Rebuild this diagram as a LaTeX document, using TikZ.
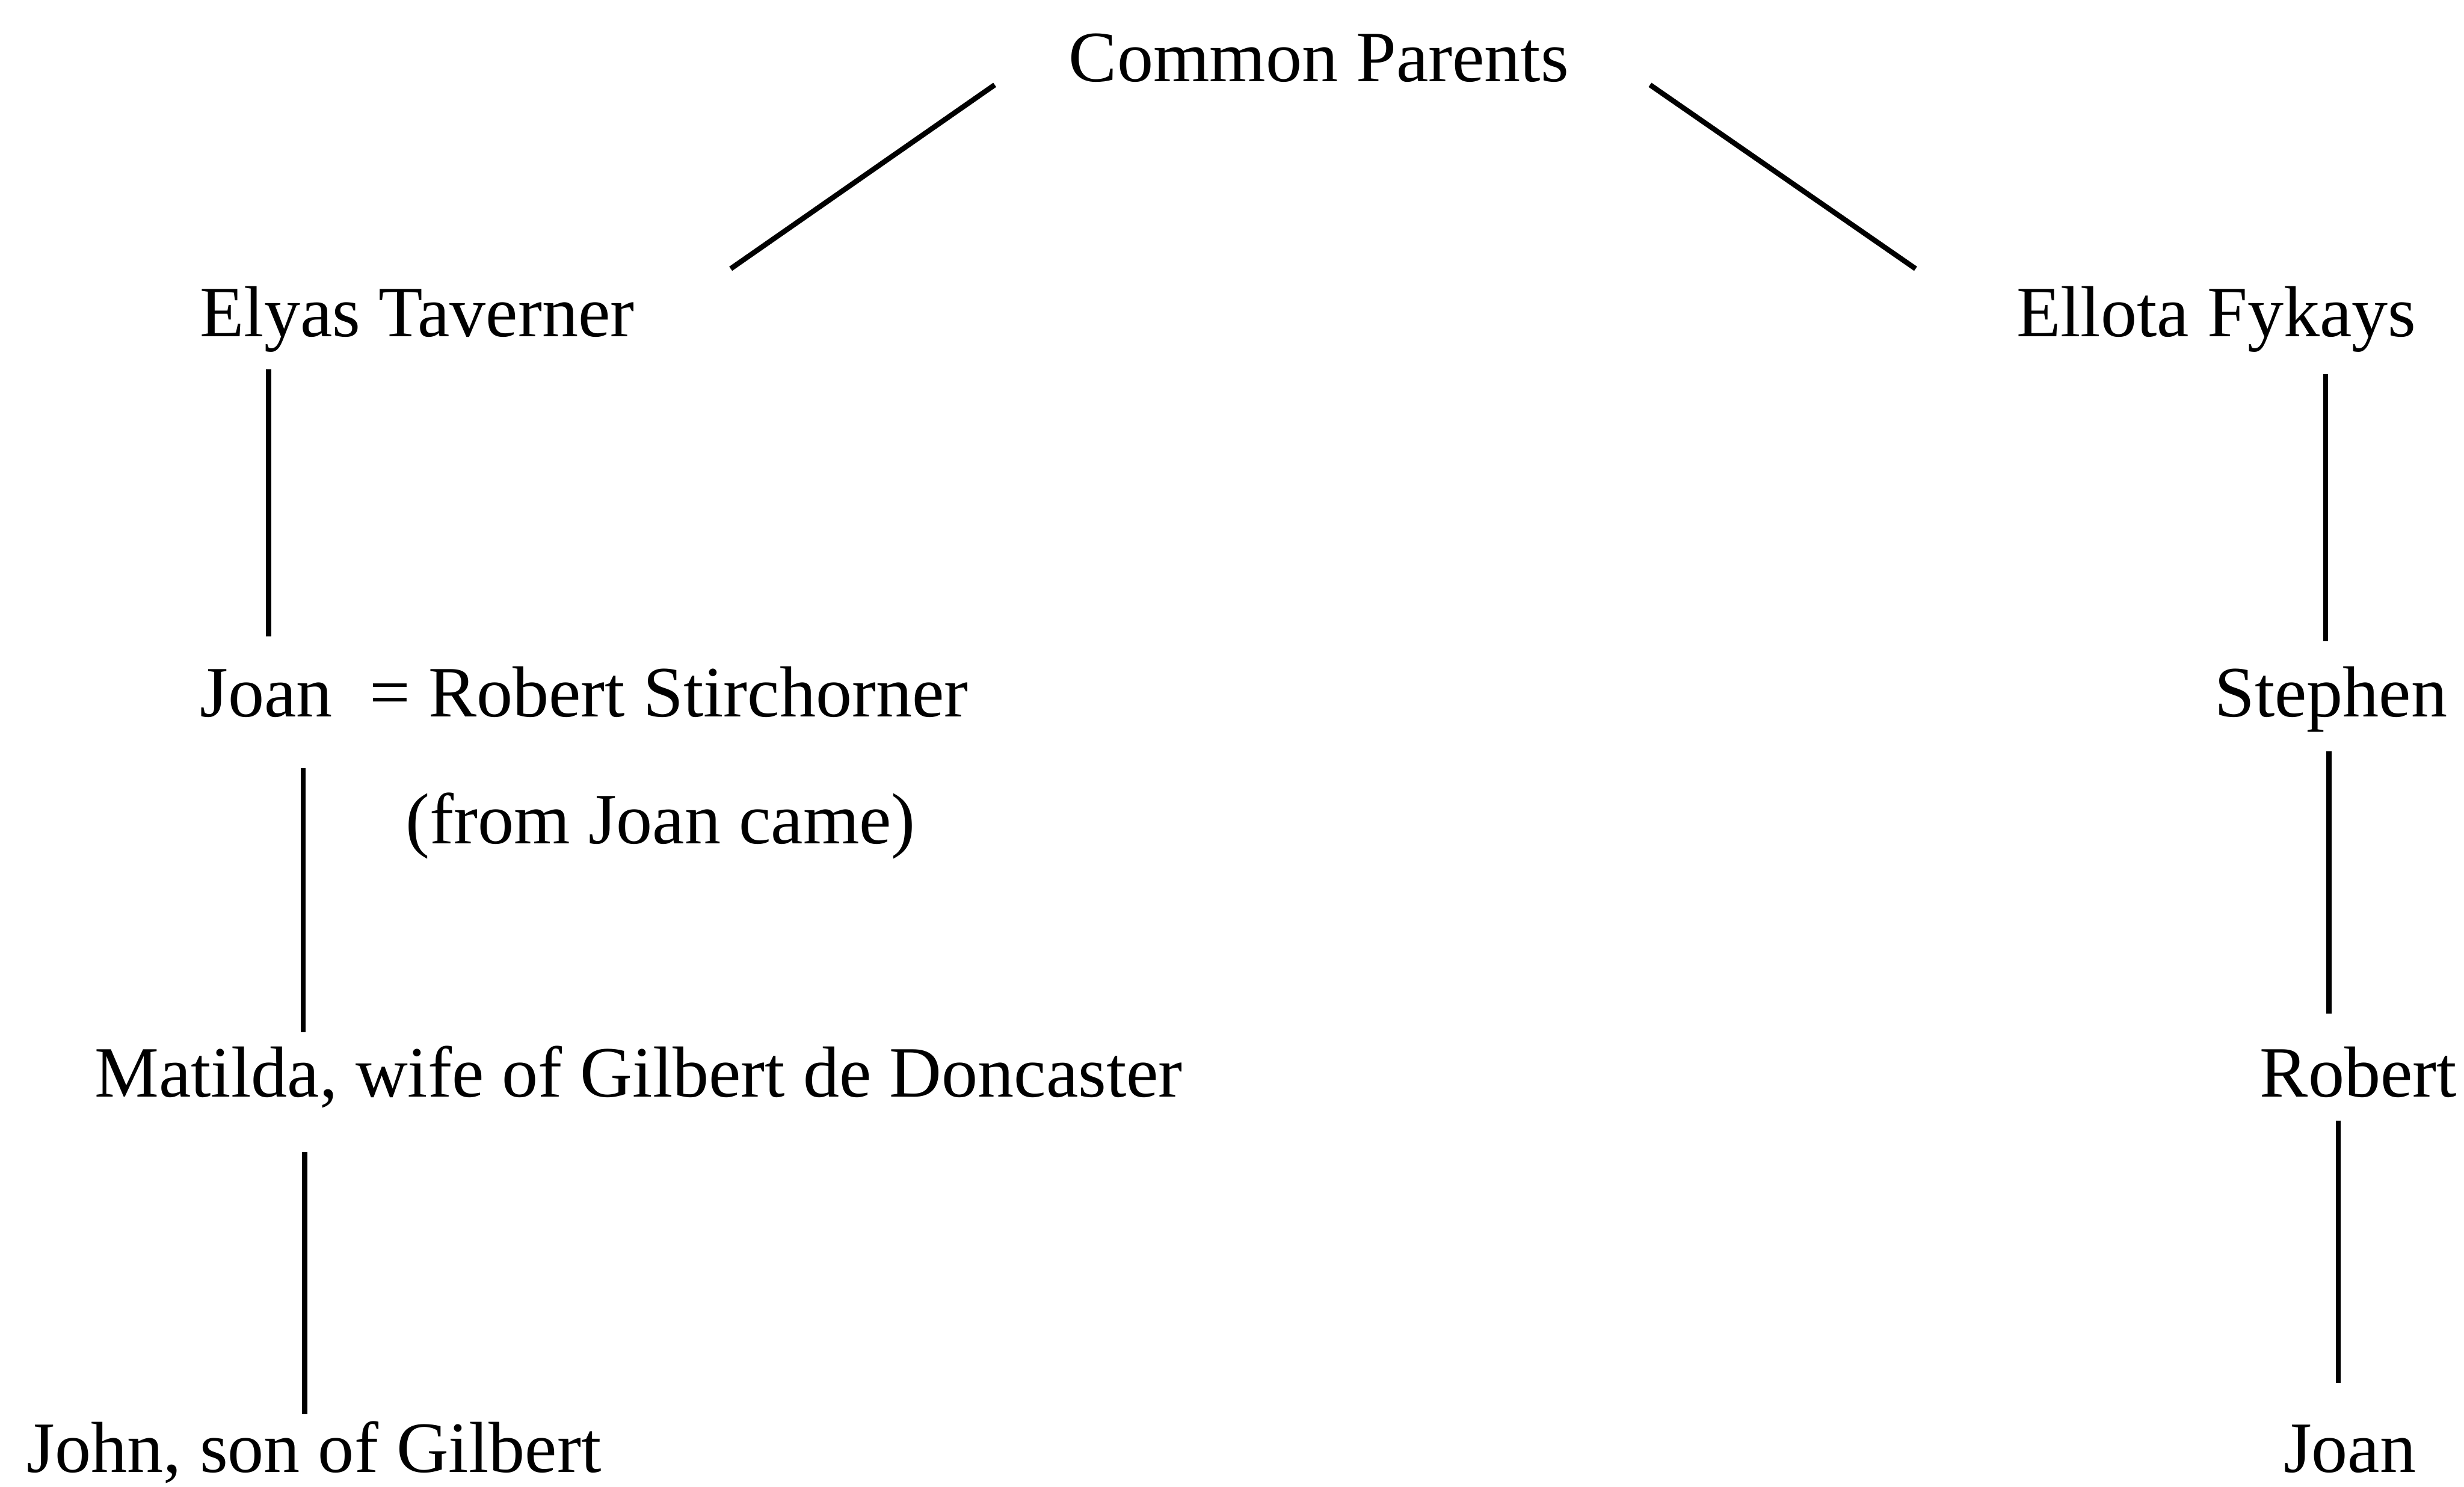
\documentclass[tikz,border=0pt]{standalone}
\usepackage{fontspec}
\setmainfont{Liberation Serif}
\begin{document}
\begin{tikzpicture}[x=1pt,y=-1pt,
  lbl/.style={anchor=base west,inner sep=0pt,font=\fontsize{46}{55}\selectfont},
  link/.style={line width=3.3pt,line cap=butt}]
\useasboundingbox (0,0) rectangle (1568,946);
% texts
\node[lbl] (cp) at (680,52) {Common Parents};
\node[lbl] (elyas) at (127,214) {Elyas Taverner};
\node[lbl] (ellota) at (1283,214) {Ellota Fykays};
\node[lbl] (joanL) at (127,456) {Joan};
\node[lbl] (robS) at (235,456) {= Robert Stirchorner};
\node[lbl] (from) at (258,537) {(from Joan came)};
\node[lbl] (steph) at (1409,456) {Stephen};
\node[lbl] (matilda) at (60,698) {Matilda, wife of Gilbert de Doncaster};
\node[lbl] (robert) at (1438,698) {Robert};
\node[lbl] (john) at (17,937) {John, son of Gilbert};
\node[lbl] (joanR) at (1453,937) {Joan};
% connector ends
\coordinate (cpL) at (633,54);
\coordinate (elyasT) at (465,171);
\coordinate (cpR) at (1050,54);
\coordinate (ellotaT) at (1219,171);
\coordinate (elyasB) at (171,235);
\coordinate (joanLT) at (171,405);
\coordinate (ellotaB) at (1480,238);
\coordinate (stephT) at (1480,408);
\coordinate (joanLB) at (193,489);
\coordinate (matildaT) at (193,657);
\coordinate (stephB) at (1482,478);
\coordinate (robertT) at (1482,645);
\coordinate (matildaB) at (194,733);
\coordinate (johnT) at (194,900);
\coordinate (robertB) at (1488,713);
\coordinate (joanRT) at (1488,880);
% connectors
\draw[link] (cpL) -- (elyasT);
\draw[link] (cpR) -- (ellotaT);
\draw[link] (elyasB) -- (joanLT);
\draw[link] (ellotaB) -- (stephT);
\draw[link] (joanLB) -- (matildaT);
\draw[link] (stephB) -- (robertT);
\draw[link] (matildaB) -- (johnT);
\draw[link] (robertB) -- (joanRT);
\end{tikzpicture}
\end{document}
